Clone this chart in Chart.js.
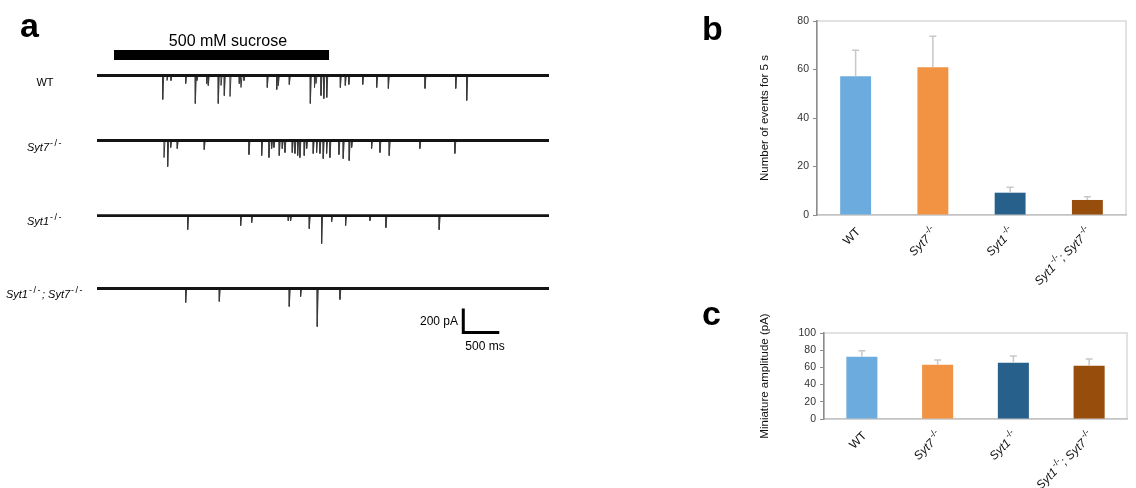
<!DOCTYPE html>
<html>
<head>
<meta charset="utf-8">
<title>Syt1 / Syt7 sucrose release</title>
<script src="https://cdn.jsdelivr.net/npm/chart.js@4.4.1/dist/chart.umd.min.js"></script>
<style>
  body { margin: 0; background: #fff; font-family: 'Liberation Sans', Arial, sans-serif; }
  #page { position: relative; width: 1136px; height: 488px; overflow: hidden; background: #fff; }
  canvas { position: absolute; }
  .lbl { position: absolute; white-space: nowrap; color: #000; transform: translate(-50%, -50%); line-height: 1; }
  .sup { font-size: 9px; position: relative; top: -5px; letter-spacing: 1.5px; margin-left: 1px; }
  .panel { position: absolute; font-weight: bold; font-size: 34px; line-height: 1; color: #000; }
</style>
</head>
<body>
<div id="page">
  <canvas id="traceChart" width="560" height="360" style="left:0;top:0"></canvas>
  <canvas id="eventsChart" width="436" height="300" style="left:700px;top:0"></canvas>
  <canvas id="ampChart" width="436" height="198" style="left:700px;top:290px"></canvas>
</div>
<script>
// ============ DATA ============

const genotypes = ['WT', 'Syt7-/-', 'Syt1-/-', 'Syt1-/-; Syt7-/-'];
const barColors = ['#6babdd', '#f29343', '#27618b', '#974d0c'];

// b: number of events for 5 s (mean, SEM)
const eventCounts = [57.2, 60.9, 9.2, 6.2];
const eventErrors = [10.7, 12.8, 2.2, 1.3];
const eventTicks = [0, 20, 40, 60, 80];

// c: miniature amplitude, pA (mean, SEM)
const ampValues = [72.5, 63.2, 65.5, 62.0];
const ampErrors = [7.0, 5.4, 7.8, 7.8];
const ampTicks = [0, 20, 40, 60, 80, 100];

// a: sweep length and sucrose window (ms), scale bar (ms, pA)
const sweepMs = 6280;
const sucroseMs = [236, 3224];
const scaleBarMs = 500;
const scaleBarPA = 200;

// a: detected events per trace, time (ms) and peak amplitude (pA)
const wtTimes = [913, 973, 1028, 1232, 1366, 1389, 1524, 1546, 1685, 1723, 1769, 1848, 1977, 2001, 2042, 2366, 2497, 2519, 2672, 2964, 3022, 3043, 3112, 3151, 3192, 3381, 3450, 3499, 3692, 3886, 4048, 4557, 4984, 5137];
const wtAmps = [200, 42, 42, 67, 233, 42, 67, 83, 233, 83, 167, 175, 67, 100, 42, 100, 117, 83, 75, 233, 100, 67, 167, 192, 183, 100, 83, 75, 75, 100, 108, 108, 108, 208];
const syt7Times = [931, 982, 1024, 1115, 1490, 2111, 2288, 2389, 2426, 2458, 2532, 2574, 2611, 2713, 2750, 2788, 2819, 2879, 2913, 3004, 3051, 3097, 3143, 3190, 3236, 3361, 3421, 3504, 3538, 3815, 3931, 4060, 4486, 4972];
const syt7Amps = [142, 217, 58, 67, 75, 117, 125, 142, 67, 58, 125, 67, 100, 100, 108, 125, 142, 125, 67, 108, 100, 108, 150, 108, 142, 117, 150, 167, 58, 67, 100, 125, 67, 108];
const syt1Times = [1260, 1996, 2149, 2657, 2690, 2949, 3121, 3260, 3454, 3792, 4014, 4754];
const syt1Amps = [117, 83, 58, 42, 42, 108, 233, 50, 83, 42, 100, 117];
const dkoTimes = [1232, 1699, 2671, 2829, 3060, 3375];
const dkoAmps = [117, 108, 150, 67, 317, 92];

// vertical placement of each sweep on the pA axis
const traceOffsets = [-629, -1171, -1797, -2404];
const sucroseLevel = -458;
const scaleBarAt = { x: 5089, y: -2771 };

// ============ HELPERS ============

function genotypeParts(label) {
  return label.split(/(-\/-)/).filter(s => s).map(s => ({
    text: s,
    sup: s === '-/-',
    italic: s !== 'WT' && s !== '-/-'
  }));
}

function genotypeHTML(label) {
  return genotypeParts(label).map(p => {
    if (p.sup) return `<span class="sup">${p.text}</span>`;
    return p.italic ? `<i>${p.text}</i>` : p.text;
  }).join('');
}

function drawGenotype(ctx, label, size) {
  const parts = genotypeParts(label);
  const fontFor = p => `${p.italic ? 'italic ' : ''}${p.sup ? Math.round(size * 0.75) : size}px 'Liberation Sans', Arial, sans-serif`;
  let total = 0;
  parts.forEach(p => { ctx.font = fontFor(p); p.w = ctx.measureText(p.text).width + (p.sup ? 2 : 0); total += p.w; });
  let x = -total;
  ctx.fillStyle = '#111';
  ctx.textBaseline = 'middle';
  ctx.textAlign = 'left';
  parts.forEach(p => {
    ctx.font = fontFor(p);
    ctx.fillText(p.text, x + (p.sup ? 1.5 : 0), p.sup ? -size * 0.42 : 0);
    x += p.w;
  });
}

function buildTrace(times, amps, offset) {
  const pts = [{ x: 0, y: offset }];
  times.forEach((t, i) => {
    pts.push({ x: t - 2, y: offset });
    pts.push({ x: t, y: offset - amps[i] });
    pts.push({ x: t + 14, y: offset });
  });
  pts.push({ x: sweepMs, y: offset });
  return pts;
}

function addLabel(html, x, y, extra) {
  const el = document.createElement('div');
  el.className = 'lbl';
  el.innerHTML = html;
  el.style.left = x + 'px';
  el.style.top = y + 'px';
  Object.assign(el.style, extra || {});
  document.getElementById('page').appendChild(el);
}

function addPanelLetter(letter, x, y) {
  const el = document.createElement('div');
  el.className = 'panel';
  el.textContent = letter;
  el.style.left = x + 'px';
  el.style.top = y + 'px';
  document.getElementById('page').appendChild(el);
}

// ============ PLUGINS ============

const frameBox = {
  id: 'frameBox',
  beforeDraw(chart) {
    const { ctx, chartArea: a } = chart;
    ctx.save();
    ctx.strokeStyle = '#d9d9d9';
    ctx.lineWidth = 1.5;
    ctx.strokeRect(a.left, a.top, a.right - a.left, a.bottom - a.top);
    ctx.restore();
  }
};

const errorBars = {
  id: 'errorBars',
  afterDatasetsDraw(chart, args, opts) {
    const { ctx, scales: { y } } = chart;
    const meta = chart.getDatasetMeta(0);
    const values = chart.data.datasets[0].data;
    ctx.save();
    ctx.strokeStyle = '#c8c8c8';
    ctx.lineWidth = 1.5;
    meta.data.forEach((bar, i) => {
      const top = y.getPixelForValue(values[i] + opts.errors[i]);
      ctx.beginPath();
      ctx.moveTo(bar.x, bar.y);
      ctx.lineTo(bar.x, top);
      ctx.moveTo(bar.x - 3.5, top);
      ctx.lineTo(bar.x + 3.5, top);
      ctx.stroke();
    });
    ctx.restore();
  }
};

const slantLabels = {
  id: 'slantLabels',
  afterDraw(chart) {
    const { ctx, chartArea, scales: { x } } = chart;
    chart.data.labels.forEach((label, i) => {
      ctx.save();
      ctx.translate(x.getPixelForTick(i) + 3, chartArea.bottom + 15);
      ctx.rotate(-Math.PI / 4);
      drawGenotype(ctx, label, 12);
      ctx.restore();
    });
  }
};

// ============ PANEL A: TRACES ============

function initializeTraces() {
  const sweeps = [
    [wtTimes, wtAmps],
    [syt7Times, syt7Amps],
    [syt1Times, syt1Amps],
    [dkoTimes, dkoAmps]
  ];
  const datasets = [];
  sweeps.forEach(([times, amps], i) => {
    datasets.push({
      data: [{ x: 0, y: traceOffsets[i] }, { x: sweepMs, y: traceOffsets[i] }],
      borderColor: '#141414', borderWidth: 2.8
    });
    datasets.push({
      data: buildTrace(times, amps, traceOffsets[i]),
      borderColor: '#3a3a3a', borderWidth: 1
    });
  });
  datasets.push({
    data: [{ x: sucroseMs[0], y: sucroseLevel }, { x: sucroseMs[1], y: sucroseLevel }],
    borderColor: '#000', borderWidth: 10, borderCapStyle: 'butt'
  });
  datasets.push({
    data: [
      { x: scaleBarAt.x, y: scaleBarAt.y + scaleBarPA },
      { x: scaleBarAt.x, y: scaleBarAt.y },
      { x: scaleBarAt.x + scaleBarMs, y: scaleBarAt.y }
    ],
    borderColor: '#000', borderWidth: 3, borderCapStyle: 'butt', borderJoinStyle: 'miter'
  });

  new Chart(document.getElementById('traceChart'), {
    type: 'line',
    data: { datasets: datasets.map(d => Object.assign({ pointRadius: 0, tension: 0, clip: false }, d)) },
    options: {
      responsive: false,
      animation: false,
      layout: { padding: { left: 97, right: 11, top: 0, bottom: 0 } },
      plugins: { legend: { display: false }, tooltip: { enabled: false } },
      scales: {
        x: { type: 'linear', min: 0, max: sweepMs, display: false },
        y: { type: 'linear', min: -3000, max: 0, display: false }
      }
    }
  });

  addLabel('500 mM sucrose', 228, 41, { fontSize: '16px' });
  addLabel('200 pA', 439, 321, { fontSize: '12px' });
  addLabel('500 ms', 485, 346, { fontSize: '12px' });
  const labelY = [82, 147, 221, 294];
  genotypes.forEach((g, i) => addLabel(genotypeHTML(g), 45, labelY[i], { fontSize: '11px' }));
}

// ============ PANELS B, C: BAR CHARTS ============

function barChart(canvasId, values, errors, ticks, title, box) {
  new Chart(document.getElementById(canvasId), {
    type: 'bar',
    data: {
      labels: genotypes,
      datasets: [{
        data: values,
        backgroundColor: barColors,
        borderWidth: 0,
        categoryPercentage: 1,
        barPercentage: box.barPct
      }]
    },
    options: {
      responsive: false,
      animation: false,
      layout: { padding: { top: box.top, right: box.right, left: 0, bottom: 0 } },
      plugins: { legend: { display: false }, tooltip: { enabled: false }, errorBars: { errors } },
      scales: {
        x: {
          grid: { display: false },
          border: { color: '#c4c4c4', width: 1.5 },
          ticks: { display: false },
          afterFit: s => { s.height = box.xHeight; }
        },
        y: {
          min: ticks[0],
          max: ticks[ticks.length - 1],
          afterBuildTicks: s => { s.ticks = ticks.map(v => ({ value: v })); },
          ticks: { color: '#333', padding: 4, font: { family: "'Liberation Sans', Arial, sans-serif", size: 10.5 } },
          grid: { drawOnChartArea: false, tickLength: 4, color: '#8c8c8c' },
          border: { color: '#8c8c8c', width: 1.5 },
          title: {
            display: true, text: title, color: '#111',
            padding: { top: 58, bottom: 0 },
            font: { family: "'Liberation Sans', Arial, sans-serif", size: 11.5 }
          },
          afterFit: s => { s.width = box.yWidth; }
        }
      }
    },
    plugins: [frameBox, errorBars, slantLabels]
  });
}

document.addEventListener('DOMContentLoaded', () => {
  addPanelLetter('a', 20, 8);
  addPanelLetter('b', 702, 11);
  addPanelLetter('c', 702, 296);

  initializeTraces();
  barChart('eventsChart', eventCounts, eventErrors, eventTicks, 'Number of events for 5 s',
    { top: 21, right: 10, yWidth: 117, xHeight: 85, barPct: 0.4 });
  barChart('ampChart', ampValues, ampErrors, ampTicks, 'Miniature amplitude (pA)',
    { top: 43, right: 9, yWidth: 124, xHeight: 69, barPct: 0.41 });
});
</script>
</body>
</html>
